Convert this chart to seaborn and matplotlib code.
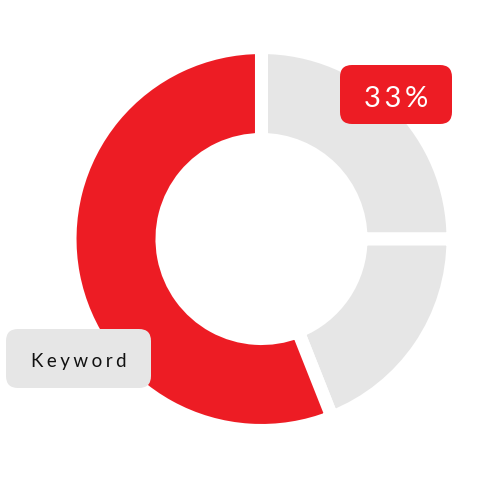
import matplotlib
matplotlib.use("Agg")
import matplotlib.pyplot as plt
import seaborn as sns
from matplotlib.patches import FancyBboxPatch

sns.set_theme(style="white")
plt.rcParams['font.family'] = ['Lato', 'DejaVu Sans']

# data
segments = ['Part A', 'Part B', 'Keyword']
values = [25, 19, 56]
seg_colors = ['#E6E6E6', '#E6E6E6', '#ED1C24']
pct_label = '33%'
key_label = 'Keyword'

fig = plt.figure(figsize=(5, 5), dpi=100)
ax = fig.add_axes([0, 0, 1, 1])

# white edges give the constant-width gaps between segments
ax.pie(values, colors=seg_colors, startangle=90, counterclock=False,
       center=(261.5, 261), radius=191.5,
       wedgeprops=dict(width=92, edgecolor='white', linewidth=9.4))

ax.set_xlim(0, 500)
ax.set_ylim(0, 500)
ax.set_aspect('equal')
ax.axis('off')

# percentage tag
ax.add_patch(FancyBboxPatch((340, 376), 112, 59,
                            boxstyle='round,pad=0,rounding_size=12',
                            fc='#ED1C24', ec='none', zorder=5))
ax.text(396, 393, '\u2009'.join(pct_label), color='white', fontsize=21,
        ha='center', va='baseline', zorder=6)

# keyword tag
ax.add_patch(FancyBboxPatch((6, 112), 145, 59,
                            boxstyle='round,pad=0,rounding_size=12',
                            fc='#E6E6E6', ec='none', zorder=5))
ax.text(79, 133, '\u2009\u200a'.join(key_label), color='#111111', fontsize=13.5,
        ha='center', va='baseline', zorder=6)

fig.savefig('out.png', dpi=100)
